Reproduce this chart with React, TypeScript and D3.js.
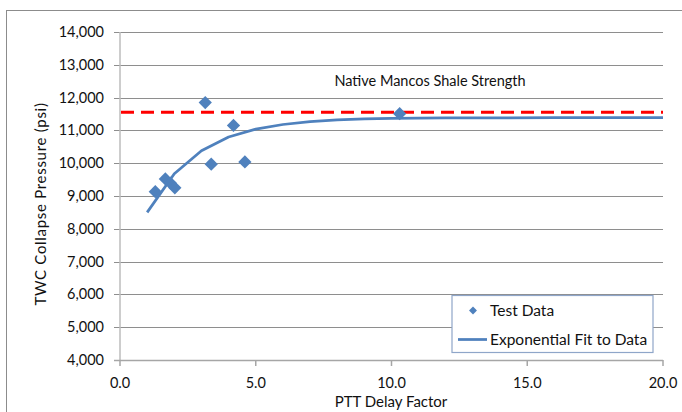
import React, { useRef, useEffect } from "react";
import * as d3 from "d3";

// test data (PTT delay factor, collapse pressure psi)
const testX = [1.3, 1.67, 1.86, 2.02, 3.14, 3.36, 4.18, 4.6, 10.3];
const testY = [9130, 9520, 9390, 9250, 11850, 9970, 11150, 10040, 11510];

// exponential fit curve
const fitX = [1, 2, 3, 4, 5, 6, 7, 8, 9, 10, 12, 14, 16, 18, 20];
const fitY = [8500, 9680, 10380, 10800, 11040, 11180, 11270, 11320, 11350, 11365, 11380, 11385, 11388, 11390, 11390];

const shaleStrength = 11550;
const xTicks = [0, 5, 10, 15, 20];
const yTicks = [4000, 5000, 6000, 7000, 8000, 9000, 10000, 11000, 12000, 13000, 14000];

const App = () => {
  const svgRef = useRef<SVGSVGElement>(null);
  const width = 682;
  const height = 412;

  useEffect(() => {
    const svg = d3.select(svgRef.current);
    svg.selectAll("*").remove();

    const font = "Lato, 'Open Sans', sans-serif";
    const blue = "#4F81BD";
    const ink = "#111";

    // chart frame
    svg
      .append("rect")
      .attr("x", 6.5)
      .attr("y", 10.5)
      .attr("width", 700)
      .attr("height", 420)
      .attr("fill", "#fff")
      .attr("stroke", "#8c8c8c");

    const x = d3.scaleLinear().domain([0, 20]).range([120, 663]);
    const y = d3.scaleLinear().domain([4000, 14000]).range([360, 32]);

    // horizontal gridlines
    svg
      .append("g")
      .selectAll("line")
      .data(yTicks)
      .join("line")
      .attr("x1", 114)
      .attr("x2", 663)
      .attr("y1", (d) => Math.round(y(d)) + 0.5)
      .attr("y2", (d) => Math.round(y(d)) + 0.5)
      .attr("stroke", "#8e8e8e")
      .attr("stroke-width", 1);

    // y axis line
    svg
      .append("line")
      .attr("x1", 120)
      .attr("x2", 120)
      .attr("y1", 32)
      .attr("y2", 360)
      .attr("stroke", "#bdbdbd")
      .attr("stroke-width", 1.5);

    // x axis line + ticks
    svg
      .append("line")
      .attr("x1", 114)
      .attr("x2", 663)
      .attr("y1", 360.5)
      .attr("y2", 360.5)
      .attr("stroke", "#a6a6a6")
      .attr("stroke-width", 1.5);

    svg
      .append("g")
      .selectAll("line")
      .data(xTicks)
      .join("line")
      .attr("x1", (d) => x(d))
      .attr("x2", (d) => x(d))
      .attr("y1", 360)
      .attr("y2", 366)
      .attr("stroke", "#a6a6a6")
      .attr("stroke-width", 1.5);

    // tick labels
    svg
      .append("g")
      .selectAll("text")
      .data(yTicks)
      .join("text")
      .attr("x", 104)
      .attr("y", (d) => y(d))
      .attr("dy", "0.35em")
      .attr("text-anchor", "end")
      .attr("font-family", font)
      .attr("font-size", 14.5)
      .attr("fill", ink)
      .text((d) => d3.format(",")(d));

    svg
      .append("g")
      .selectAll("text")
      .data(xTicks)
      .join("text")
      .attr("x", (d) => x(d))
      .attr("y", 383)
      .attr("dy", "0.35em")
      .attr("text-anchor", "middle")
      .attr("font-family", font)
      .attr("font-size", 14.5)
      .attr("fill", ink)
      .text((d) => d3.format(".1f")(d));

    // axis titles
    svg
      .append("text")
      .attr("x", 391)
      .attr("y", 402)
      .attr("dy", "0.35em")
      .attr("text-anchor", "middle")
      .attr("font-family", font)
      .attr("font-size", 15)
      .attr("fill", ink)
      .text("PTT Delay Factor");

    svg
      .append("text")
      .attr("transform", "translate(41,204) rotate(-90)")
      .attr("dy", "0.35em")
      .attr("text-anchor", "middle")
      .attr("font-family", font)
      .attr("font-size", 15)
      .attr("letter-spacing", "0.7")
      .attr("fill", ink)
      .text("TWC Collapse Pressure (psi)");

    // native shale strength line
    svg
      .append("line")
      .attr("x1", 121)
      .attr("x2", 663)
      .attr("y1", y(shaleStrength))
      .attr("y2", y(shaleStrength))
      .attr("stroke", "#FF0000")
      .attr("stroke-width", 3)
      .attr("stroke-dasharray", "13,7");

    svg
      .append("text")
      .attr("x", 430)
      .attr("y", 81)
      .attr("dy", "0.35em")
      .attr("text-anchor", "middle")
      .attr("font-family", font)
      .attr("font-size", 14.5)
      .attr("fill", ink)
      .text("Native Mancos Shale Strength");

    // fit curve
    const line = d3
      .line<number>()
      .x((d, i) => x(fitX[i]))
      .y((d) => y(d));

    svg
      .append("path")
      .attr("d", line(fitY))
      .attr("fill", "none")
      .attr("stroke", blue)
      .attr("stroke-width", 2.75)
      .attr("stroke-linejoin", "round");

    // test points
    const diamond = d3.symbol().type(d3.symbolDiamond2).size(112);
    svg
      .append("g")
      .selectAll("path")
      .data(testY)
      .join("path")
      .attr("transform", (d, i) => `translate(${x(testX[i])},${y(d)})`)
      .attr("d", diamond)
      .attr("fill", blue);

    // legend
    const lg = svg.append("g");
    lg.append("rect")
      .attr("x", 452)
      .attr("y", 295.5)
      .attr("width", 201)
      .attr("height", 57)
      .attr("fill", "#fff")
      .attr("stroke", "#8fa6c9")
      .attr("stroke-width", 1.2);
    lg.append("path")
      .attr("transform", "translate(473,310.5)")
      .attr("d", d3.symbol().type(d3.symbolDiamond2).size(40)())
      .attr("fill", blue);
    lg.append("text")
      .attr("x", 490)
      .attr("y", 310.5)
      .attr("dy", "0.35em")
      .attr("font-family", font)
      .attr("font-size", 15.5)
      .attr("fill", ink)
      .text("Test Data");
    lg.append("line")
      .attr("x1", 458)
      .attr("x2", 487)
      .attr("y1", 339.5)
      .attr("y2", 339.5)
      .attr("stroke", blue)
      .attr("stroke-width", 2.75);
    lg.append("text")
      .attr("x", 490)
      .attr("y", 339.5)
      .attr("dy", "0.35em")
      .attr("font-family", font)
      .attr("font-size", 15.5)
      .attr("fill", ink)
      .text("Exponential Fit to Data");
  }, []);

  return (
    <div style={{ position: "fixed", left: 0, top: 0 }}>
      <svg ref={svgRef} width={width} height={height} style={{ display: "block" }}></svg>
    </div>
  );
};

export default App;
